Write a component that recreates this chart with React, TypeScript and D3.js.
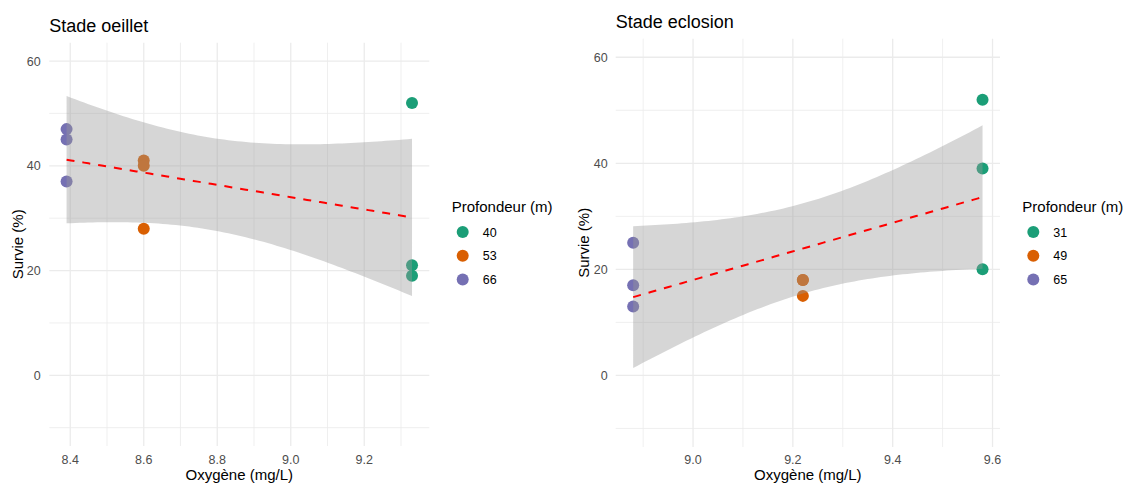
import React from 'react';
import * as d3 from 'd3';

// ---------- data ----------
const palette = ['#1B9E77', '#D95F02', '#7570B3'];

const depthsLeft = ['40', '53', '66'];
const depthLeft = ['40', '40', '40', '53', '53', '53', '66', '66', '66'];
const oxygenLeft = [9.33, 9.33, 9.33, 8.6, 8.6, 8.6, 8.39, 8.39, 8.39];
const survieLeft = [52, 21, 19, 41, 40, 28, 47, 45, 37];

const depthsRight = ['31', '49', '65'];
const depthRight = ['31', '31', '31', '49', '49', '49', '65', '65', '65'];
const oxygenRight = [9.58, 9.58, 9.58, 9.22, 9.22, 9.22, 8.88, 8.88, 8.88];
const survieRight = [52, 39, 20, 18, 18, 15, 25, 17, 13];

const xTicksLeft = [8.4, 8.6, 8.8, 9.0, 9.2];
const xMinorLeft = [8.5, 8.7, 8.9, 9.1, 9.3];
const xTicksRight = [9.0, 9.2, 9.4, 9.6];
const xMinorRight = [8.9, 9.1, 9.3, 9.5];
const yTicks = [0, 20, 40, 60];
const yMinor = [-10, 10, 30, 50];
const yLimits = [-10, 60];

const T_975_DF7 = 2.3646;

const FONT = "'Liberation Sans', Arial, sans-serif";

function linFit(xs: number[], ys: number[]) {
  const n = xs.length;
  const mx = d3.mean(xs)!;
  const my = d3.mean(ys)!;
  let sxx = 0, sxy = 0;
  xs.forEach((x, i) => { sxx += (x - mx) ** 2; sxy += (x - mx) * (ys[i] - my); });
  const b = sxy / sxx;
  const a = my - b * mx;
  let sse = 0;
  xs.forEach((x, i) => { sse += (ys[i] - (a + b * x)) ** 2; });
  const s = Math.sqrt(sse / (n - 2));
  const [lo, hi] = d3.extent(xs) as [number, number];
  return d3.range(80).map(i => {
    const x = lo + (hi - lo) * i / 79;
    const fit = a + b * x;
    const se = s * Math.sqrt(1 / n + (x - mx) ** 2 / sxx);
    return { x, fit, lo: fit - T_975_DF7 * se, hi: fit + T_975_DF7 * se };
  });
}

type PanelProps = {
  title: string; depths: string[]; depth: string[]; xs: number[]; ys: number[];
  xTicks: number[]; xMinor: number[]; px: [number, number]; py: [number, number];
  titleY: number; yTitleX: number; yLabelX: number; legendX: number;
};

function Panel(p: PanelProps) {
  const [xlo, xhi] = d3.extent(p.xs) as [number, number];
  const dx = (xhi - xlo) * 0.05;
  const x = d3.scaleLinear().domain([xlo - dx, xhi + dx]).range(p.px);
  const dy = (yLimits[1] - yLimits[0]) * 0.05;
  const y = d3.scaleLinear().domain([yLimits[0] - dy, yLimits[1] + dy]).range(p.py);
  const color = d3.scaleOrdinal<string, string>().domain(p.depths).range(palette);
  const fit = linFit(p.xs, p.ys);
  const area = d3.area<any>().x(d => x(d.x)).y0(d => y(d.lo)).y1(d => y(d.hi));
  const line = d3.line<any>().x(d => x(d.x)).y(d => y(d.fit));
  const fmt = d3.format('.1f');
  const [x0, x1] = x.range();
  const [yb, yt] = y.range();
  const cx = (x0 + x1) / 2;
  const cy = (yb + yt) / 2;
  return (
    <g fontFamily={FONT}>
      <text x={x0} y={p.titleY} fontSize={18} fill="#000">{p.title}</text>
      {yMinor.map(v => <line key={'ym' + v} x1={x0} x2={x1} y1={y(v)} y2={y(v)} stroke="#EBEBEB" strokeWidth={0.8} />)}
      {p.xMinor.map(v => <line key={'xm' + v} x1={x(v)} x2={x(v)} y1={yb} y2={yt} stroke="#EBEBEB" strokeWidth={0.8} />)}
      {yTicks.map(v => <line key={'yM' + v} x1={x0} x2={x1} y1={y(v)} y2={y(v)} stroke="#EBEBEB" strokeWidth={1.3} />)}
      {p.xTicks.map(v => <line key={'xM' + v} x1={x(v)} x2={x(v)} y1={yb} y2={yt} stroke="#EBEBEB" strokeWidth={1.3} />)}
      {yTicks.map(v => <text key={'yl' + v} x={p.yLabelX} y={y(v) + 4.5} textAnchor="end" fontSize={12.5} fill="#4D4D4D">{v}</text>)}
      {p.xTicks.map(v => <text key={'xl' + v} x={x(v)} y={464} textAnchor="middle" fontSize={12.5} fill="#4D4D4D">{fmt(v)}</text>)}
      {p.xs.map((v, i) => <circle key={'pt' + i} cx={x(v)} cy={y(p.ys[i])} r={6} fill={color(p.depth[i])} />)}
      <path d={area(fit) || ''} fill="#999999" fillOpacity={0.4} />
      <path d={line(fit) || ''} fill="none" stroke="#FF0000" strokeWidth={2} strokeDasharray="8 8" />
      <text x={cx} y={480} textAnchor="middle" fontSize={15} fill="#000">Oxygène (mg/L)</text>
      <text transform={`translate(${p.yTitleX},${cy}) rotate(-90)`} textAnchor="middle" dy="0.35em" fontSize={15} fill="#000">Survie (%)</text>
      <text x={p.legendX - 11} y={212} fontSize={15} fill="#000">Profondeur (m)</text>
      {p.depths.map((d, i) => (
        <g key={'lg' + d}>
          <circle cx={p.legendX} cy={232 + i * 23.8} r={6} fill={color(d)} />
          <text x={p.legendX + 20} y={232 + i * 23.8 + 4.5} fontSize={12.5} fill="#000">{d}</text>
        </g>
      ))}
    </g>
  );
}

export default function App() {
  return (
    <svg width={1126} height={485} style={{ position: 'absolute', left: 0, top: 0, background: '#fff' }}>
      <rect width={1126} height={485} fill="#fff" />
      <Panel title="Stade oeillet" depths={depthsLeft} depth={depthLeft} xs={oxygenLeft} ys={survieLeft}
        xTicks={xTicksLeft} xMinor={xMinorLeft} px={[49.3, 429.3]} py={[446, 42.7]}
        titleY={31.5} yTitleX={18} yLabelX={40.7} legendX={462.7} />
      <Panel title="Stade eclosion" depths={depthsRight} depth={depthRight} xs={oxygenRight} ys={survieRight}
        xTicks={xTicksRight} xMinor={xMinorRight} px={[615.7, 1000]} py={[447, 38.7]}
        titleY={27.5} yTitleX={584} yLabelX={607.7} legendX={1033.3} />
    </svg>
  );
}
